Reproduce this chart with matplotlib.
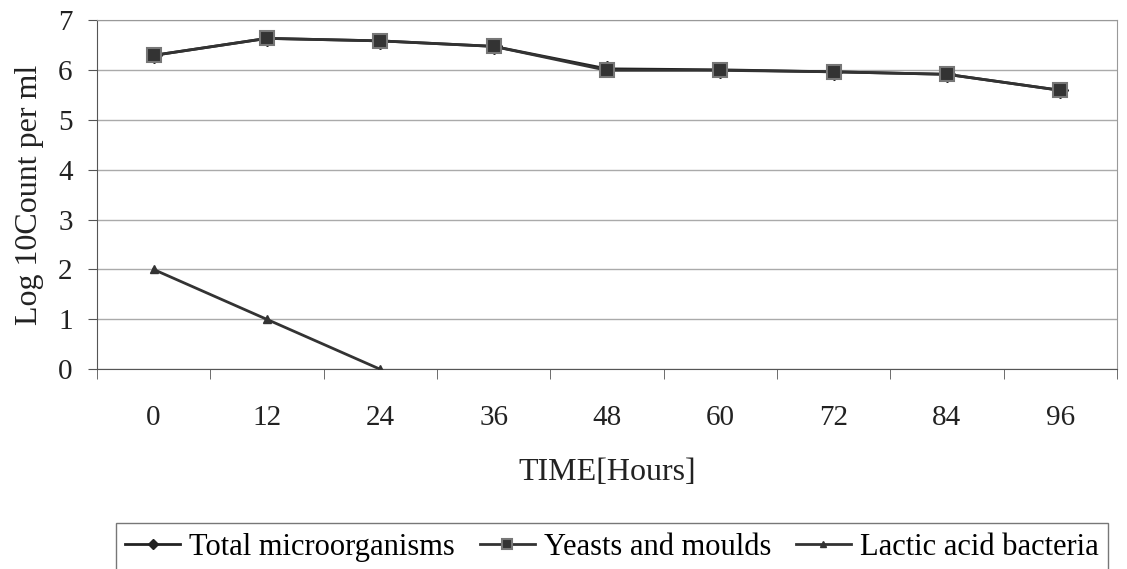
import matplotlib.pyplot as plt
import numpy as np

hours = ['0', '12', '24', '36', '48', '60', '72', '84', '96']
total = [6.29, 6.63, 6.58, 6.47, 6.02, 6.0, 5.96, 5.91, 5.59]
yeasts = [6.29, 6.63, 6.58, 6.47, 5.99, 5.99, 5.96, 5.91, 5.59]
lactic = [2, 1, 0]

plt.rcParams['font.family'] = ['Liberation Serif', 'DejaVu Serif']

fig = plt.figure(figsize=(11.27, 5.69), dpi=100)
ax = fig.add_axes([0.086, 0.351, 0.905, 0.614])

x = np.arange(len(hours))
l1, = ax.plot(x, total, color='#222222', marker='D', markersize=8, lw=2, label='Total microorganisms', zorder=3)
l2, = ax.plot(x, yeasts, color='#333333', marker='s', markersize=10, mfc='#333333', mec='#777777', mew=1.5,
              lw=2, label='Yeasts and moulds', zorder=4)
l3, = ax.plot(x[:len(lactic)], lactic, color='#333333', marker='^', markersize=6, lw=2,
              label='Lactic acid bacteria', zorder=4)

ax.set_xlim(-0.5, len(hours) - 0.5)
ax.set_ylim(0, 7)
ax.set_yticks(range(0, 8))
ax.set_xticks(x)
ax.set_xticklabels(hours)
ax.set_xticks(np.arange(-0.5, len(hours)), minor=True)
ax.tick_params(axis='x', which='major', length=0, pad=26, labelsize=21, colors='#222222')
ax.tick_params(axis='x', which='minor', length=7, color='#555555')
ax.tick_params(axis='y', length=6.5, pad=11, labelsize=21, color='#555555', labelcolor='#222222')
ax.grid(axis='y', color='#aaaaaa', lw=1)
ax.set_axisbelow(True)
for s in ax.spines.values():
    s.set_color('#999999')
ax.spines['bottom'].set_color('#555555')
ax.spines['left'].set_color('#555555')

ax.set_xlabel('TIME[Hours]', fontsize=23, labelpad=19, color='#222222')
ax.set_ylabel('Log 10Count per ml', fontsize=23, labelpad=10, color='#222222')

leg = fig.legend(handles=[l1, l2, l3], loc='upper center', bbox_to_anchor=(0.543, 0.08), ncol=3,
                 prop={'family': 'Liberation Serif', 'size': 22}, frameon=True, fancybox=False,
                 edgecolor='#555555', handlelength=1.8, handletextpad=0.3, columnspacing=0.8,
                 borderpad=0.3, borderaxespad=0, markerscale=0.7)
leg.get_frame().set_linewidth(1)

fig.savefig('out.png', dpi=100)
